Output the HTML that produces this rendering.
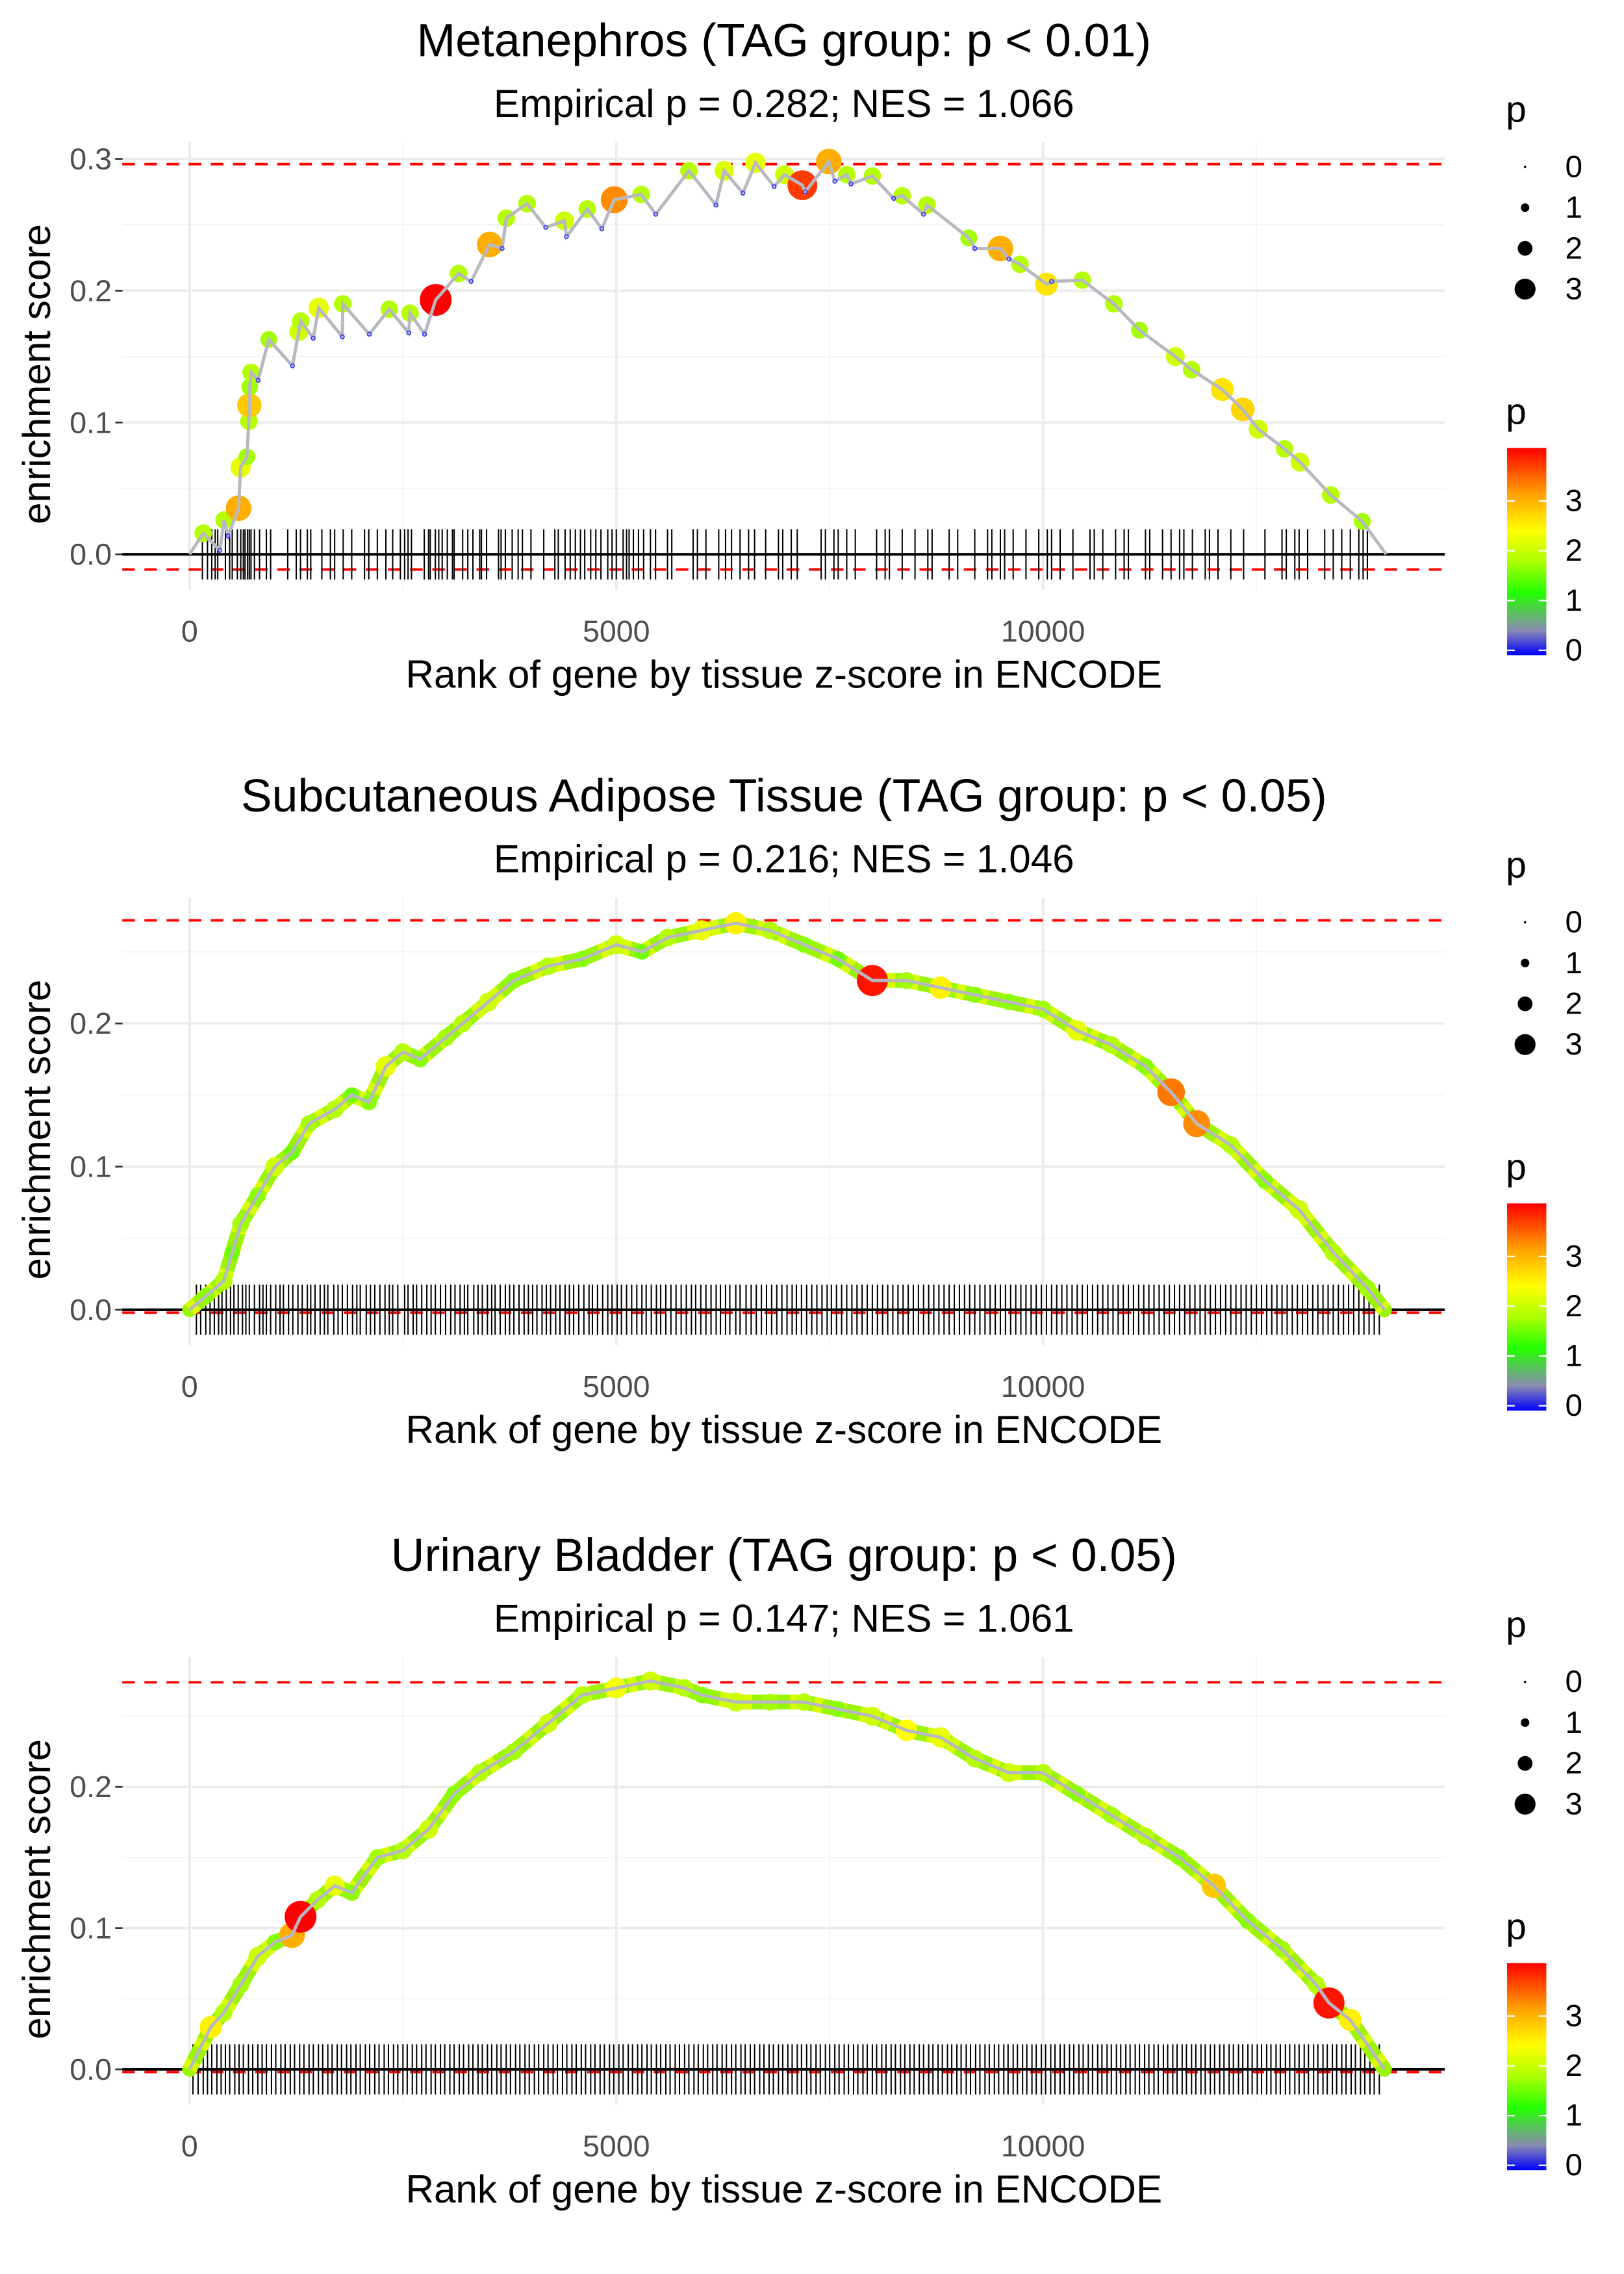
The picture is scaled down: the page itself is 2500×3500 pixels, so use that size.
<!DOCTYPE html>
<html><head><meta charset="utf-8"><style>
html,body{margin:0;padding:0;background:#fff}
svg{display:block;font-family:"Liberation Sans",Arial,sans-serif}
</style></head><body>
<svg id="chart" xmlns="http://www.w3.org/2000/svg" width="2500" height="3500" viewBox="0 0 1100 1540">
<defs>
<linearGradient id="pgrad" x1="0" y1="1" x2="0" y2="0">
<stop offset="0" stop-color="#0000ff"/><stop offset="0.12" stop-color="#8a8ab0"/><stop offset="0.3" stop-color="#22ff00"/><stop offset="0.45" stop-color="#aaff00"/><stop offset="0.6" stop-color="#ffff00"/><stop offset="0.78" stop-color="#ffa000"/><stop offset="1" stop-color="#ff0000"/>
</linearGradient>
</defs>
<g id="root"></g>
</svg>
<script>
// ---------- data ----------
const titles = ["Metanephros (TAG group: p < 0.01)","Subcutaneous Adipose Tissue (TAG group: p < 0.05)","Urinary Bladder (TAG group: p < 0.05)"];
const subtitles = ["Empirical p = 0.282; NES = 1.066","Empirical p = 0.216; NES = 1.046","Empirical p = 0.147; NES = 1.061"];
const maxES = [0.296, 0.272, 0.274];
const minES = [-0.0115, -0.002, -0.002];
const xTicks = [0, 5000, 10000];
const yTicks1 = [0, 0.1, 0.2, 0.3];
const yTicks2 = [0, 0.1, 0.2];
const yTicks3 = [0, 0.1, 0.2];

// panel 1: peaks (p>0, drawn as dots) and dips (p=0)
const ranks1 = [0,160,355,404,452,574,598,671,695,700,705,720,803,929,1206,1279,1303,1449,1513,1790,1795,2106,2340,2568,2583,2753,2884,3152,3298,3516,3662,3711,3954,4173,4392,4416,4660,4830,4976,5292,5462,5851,6167,6265,6484,6630,6849,6970,7180,7213,7490,7560,7700,7750,8000,8250,8350,8600,8640,9130,9200,9500,9600,9730,10040,10100,10460,10830,11130,11550,11740,12100,12340,12520,12830,13010,13370,13740,14020];
const es1 = [0,0.016,0.003,0.026,0.014,0.035,0.066,0.074,0.101,0.113,0.127,0.138,0.132,0.163,0.143,0.169,0.177,0.164,0.187,0.165,0.19,0.167,0.186,0.168,0.183,0.167,0.193,0.213,0.207,0.235,0.232,0.255,0.266,0.248,0.253,0.241,0.262,0.247,0.269,0.273,0.258,0.291,0.265,0.291,0.274,0.297,0.279,0.288,0.28,0.275,0.298,0.283,0.288,0.281,0.287,0.27,0.272,0.258,0.265,0.24,0.232,0.232,0.224,0.22,0.205,0.207,0.208,0.19,0.17,0.15,0.14,0.125,0.11,0.095,0.08,0.07,0.045,0.025,0];
const p1 = [0,1.8,0,1.8,0,3,2.2,1.7,1.8,2.8,1.7,1.8,0,1.7,0,2,1.8,0,2.2,0,1.8,0,1.8,0,1.8,0,3.9,1.8,0,3,0,1.8,1.8,0,2,0,1.8,0,3.2,1.8,0,1.8,0,2.1,0,2.2,0,2,3.6,0,3,0,1.8,0,1.8,0,1.8,0,1.8,1.7,0,3,0,1.8,2.6,0,1.8,1.8,1.7,2,1.8,2.6,2.7,2,1.8,2,1.8,1.7,0];

const ranks2 = [0,200,400,500,600,800,1000,1200,1400,1700,1900,2100,2300,2500,2700,3000,3200,3500,3800,4200,4600,5000,5300,5600,6000,6400,6800,7200,7600,8000,8400,8800,9200,9600,10000,10400,10800,11200,11500,11800,12200,12600,13000,13400,13800,14000];
const es2 = [0,0.01,0.02,0.04,0.06,0.08,0.1,0.11,0.13,0.14,0.15,0.145,0.17,0.18,0.175,0.19,0.2,0.215,0.23,0.24,0.245,0.255,0.25,0.26,0.265,0.27,0.265,0.255,0.245,0.23,0.23,0.225,0.22,0.215,0.21,0.195,0.185,0.17,0.152,0.13,0.115,0.09,0.07,0.04,0.015,0];
const p2 = [0,1.6,1.8,1.5,1.7,1.6,2,1.5,1.7,1.8,1.5,1.6,2.2,1.8,1.6,1.7,1.8,2,1.6,1.8,1.6,2,1.5,1.8,2.2,2.5,1.8,1.6,1.5,3.8,1.7,2.5,1.6,1.6,1.7,2.2,1.8,1.6,3.3,3.2,1.8,1.6,2,1.8,1.7,0];

const ranks3 = [0,250,400,600,800,1000,1200,1300,1500,1700,1900,2200,2500,2800,3100,3400,3800,4200,4600,5000,5400,5800,6000,6400,6800,7200,7600,8000,8400,8800,9200,9600,10000,10400,10800,11200,11600,12000,12400,12800,13200,13350,13600,14000];
const es3 = [0,0.03,0.04,0.06,0.08,0.09,0.095,0.108,0.12,0.13,0.125,0.15,0.155,0.17,0.195,0.21,0.225,0.245,0.265,0.27,0.275,0.27,0.265,0.26,0.26,0.26,0.255,0.25,0.24,0.235,0.22,0.21,0.21,0.195,0.18,0.165,0.15,0.13,0.105,0.085,0.06,0.047,0.035,0];
const p3 = [0,2.5,1.8,1.7,2,1.6,3,3.9,1.8,2.2,1.6,1.7,1.8,2,1.6,1.8,1.7,2,1.8,2.3,2,1.8,1.6,2,1.7,1.8,1.6,2,2.4,2.2,1.8,2,1.8,1.6,1.7,1.8,1.6,2.8,1.6,1.7,1.8,3.8,2.5,0];

const rug1 = [150,210,260,300,330,420,470,500,560,600,630,650,680,700,720,760,820,900,950,1150,1250,1300,1380,1420,1550,1650,1700,1800,1900,2050,2100,2200,2300,2380,2470,2520,2560,2600,2750,2800,2820,2880,2920,2960,3020,3080,3100,3200,3260,3320,3400,3420,3480,3620,3650,3700,3780,3850,3900,4000,4150,4280,4320,4400,4460,4520,4580,4630,4700,4760,4820,4900,4950,5000,5080,5120,5150,5200,5260,5320,5400,5460,5600,5650,5900,5950,6050,6200,6280,6350,6450,6550,6620,6750,6900,6950,7050,7120,7400,7450,7550,7600,7700,7800,8050,8150,8200,8350,8500,8650,8700,8900,9000,9200,9350,9400,9500,9550,9650,9800,9950,10050,10100,10200,10350,10550,10600,10700,10850,10950,11000,11200,11250,11400,11500,11600,11650,11750,11900,11950,12050,12200,12350,12600,12800,12850,12950,13000,13100,13300,13400,13500,13600,13700,13750,13800];
const rug2 = [80,130,190,240,290,340,380,430,480,520,570,620,660,700,760,820,860,900,950,1010,1060,1100,1160,1210,1270,1320,1380,1420,1470,1530,1580,1620,1690,1740,1790,1850,1910,1960,2000,2070,2120,2170,2230,2290,2340,2380,2440,2520,2560,2620,2660,2720,2780,2830,2880,2940,3000,3060,3110,3170,3220,3260,3330,3380,3430,3490,3540,3580,3640,3700,3750,3800,3860,3920,3970,4020,4070,4130,4180,4230,4290,4340,4400,4450,4500,4560,4620,4680,4720,4780,4840,4900,4950,5010,5060,5120,5180,5240,5300,5350,5410,5470,5520,5580,5640,5700,5760,5820,5880,5930,5990,6050,6110,6170,6220,6280,6330,6400,6450,6520,6580,6640,6700,6760,6820,6880,6940,7000,7060,7110,7170,7230,7290,7350,7410,7470,7520,7580,7640,7700,7760,7820,7880,7940,8000,8060,8120,8180,8240,8300,8360,8420,8480,8540,8600,8660,8720,8780,8840,8900,8960,9020,9080,9140,9200,9260,9320,9380,9440,9500,9560,9620,9680,9740,9800,9860,9920,9980,10040,10100,10160,10220,10280,10340,10400,10460,10520,10580,10640,10700,10760,10820,10880,10940,11000,11060,11120,11180,11240,11300,11360,11420,11480,11540,11600,11660,11720,11780,11840,11900,11960,12020,12080,12140,12200,12260,12320,12380,12440,12500,12560,12620,12680,12740,12800,12860,12920,12980,13040,13100,13160,13220,13280,13340,13400,13460,13520,13580,13640,13700,13760,13820,13880,13940];
const rug3 = [40,100,160,210,260,320,370,420,470,530,580,630,690,740,800,850,900,960,1010,1070,1120,1180,1230,1290,1340,1400,1450,1510,1560,1620,1670,1730,1780,1840,1890,1950,2000,2060,2110,2170,2220,2280,2330,2390,2440,2500,2550,2610,2660,2720,2770,2830,2880,2940,2990,3050,3100,3160,3210,3270,3320,3380,3430,3490,3540,3600,3650,3710,3760,3820,3870,3930,3980,4040,4090,4150,4200,4260,4310,4370,4420,4480,4530,4590,4640,4700,4750,4810,4860,4920,4970,5030,5080,5140,5190,5250,5300,5360,5410,5470,5520,5580,5630,5690,5740,5800,5850,5910,5960,6020,6070,6130,6180,6240,6290,6350,6400,6460,6510,6570,6620,6680,6730,6790,6840,6900,6950,7010,7060,7120,7170,7230,7280,7340,7390,7450,7500,7560,7610,7670,7720,7780,7830,7890,7940,8000,8050,8110,8160,8220,8270,8330,8380,8440,8490,8550,8600,8660,8710,8770,8820,8880,8930,8990,9040,9100,9150,9210,9260,9320,9370,9430,9480,9540,9590,9650,9700,9760,9810,9870,9920,9980,10030,10090,10140,10200,10250,10310,10360,10420,10470,10530,10580,10640,10690,10750,10800,10860,10910,10970,11020,11080,11130,11190,11240,11300,11350,11410,11460,11520,11570,11630,11680,11740,11790,11850,11900,11960,12010,12070,12120,12180,12230,12290,12340,12400,12450,12510,12560,12620,12670,12730,12780,12840,12890,12950,13000,13060,13110,13170,13220,13280,13330,13390,13440,13500,13550,13610,13660,13720,13770,13830,13880,13940];

const legendSizes = [0,1,2,3];
const legendColorTicks = [0,1,2,3];

// ---------- drawing ----------
const NS = "http://www.w3.org/2000/svg";
const root = document.getElementById("root");
function mk(tag, attrs, parent, text) {
  const e = document.createElementNS(NS, tag);
  for (const k in attrs) e.setAttribute(k, attrs[k]);
  if (text !== undefined) e.textContent = text;
  (parent || root).appendChild(e);
  return e;
}
const stops = [[0,[0,0,255]],[0.5,[138,138,176]],[1.2,[34,255,0]],[1.75,[176,255,0]],[2.4,[255,255,0]],[3.1,[255,160,0]],[3.9,[255,0,0]]];
function pColor(p) {
  if (p <= stops[0][0]) return "rgb(0,0,255)";
  for (let i = 1; i < stops.length; i++) {
    if (p <= stops[i][0]) {
      const t = (p - stops[i-1][0]) / (stops[i][0] - stops[i-1][0]);
      const a = stops[i-1][1], b = stops[i][1];
      return "rgb(" + a.map((v, j) => Math.round(v + (b[j]-v)*t)).join(",") + ")";
    }
  }
  return "rgb(255,0,0)";
}
function pRadius(p) { return 1.8 + p * 2.3; }

const X0 = 128.4, XU = 0.05781, LEFT = 82.8, RIGHT = 978.6;
const xs = r => X0 + r * XU;
const panels = [
  {T:27.4, unit:892.7, ranks:ranks1, es:es1, p:p1, rug:rug1, yTicks:yTicks1, band:false},
  {T:539, unit:969.5, ranks:ranks2, es:es2, p:p2, rug:rug2, yTicks:yTicks2, band:true},
  {T:1053.4, unit:956.5, ranks:ranks3, es:es3, p:p3, rug:rug3, yTicks:yTicks3, band:true}
];

panels.forEach((P, i) => {
  const T = P.T;
  const zeroY = T + 348;
  const plotTop = T + 69, plotBot = T + 372;
  const g = mk("g", {});
  
  
  const ys = v => zeroY - v * P.unit;
  P.yTicks.forEach(v => { const y = ys(v + 0.05); if (y > plotTop) mk("line", {x1:LEFT,x2:RIGHT,y1:y,y2:y,stroke:"#f4f4f4","stroke-width":0.8}, g); });
  [2500,7500,12500].forEach(v => mk("line", {x1:xs(v),x2:xs(v),y1:plotTop,y2:plotBot,stroke:"#f4f4f4","stroke-width":0.8}, g));
  P.yTicks.forEach(v => {
    const y = ys(v);
    const gl = mk("line", {x1:LEFT,x2:RIGHT,y1:y,y2:y,stroke:"#ebebeb","stroke-width":1.7}, g);
    
    
    const t = mk("text", {x:75.7,y:y,"text-anchor":"end","dominant-baseline":"central","font-size":20.5,fill:"#4d4d4d"}, g, v.toFixed(1));
    
    
    mk("line", {x1:78,x2:83,y1:y,y2:y,stroke:"#333","stroke-width":1.2}, g);
  });
  xTicks.forEach(v => {
    const x = xs(v);
    const gl = mk("line", {x1:x,x2:x,y1:plotTop,y2:plotBot,stroke:"#ebebeb","stroke-width":1.7}, g);
    
    
    const t = mk("text", {x:x,y:T+400,"text-anchor":"middle","dominant-baseline":"central","font-size":20.5,fill:"#4d4d4d"}, g, String(v));
    
    
  });
  const tt = mk("text", {x:531,y:T,"text-anchor":"middle","dominant-baseline":"central","font-size":31.5,fill:"#000"}, g, titles[i]);
  
  
  const st = mk("text", {x:531,y:T+42.5,"text-anchor":"middle","dominant-baseline":"central","font-size":26.5,fill:"#000"}, g, subtitles[i]);
  
  
  const xt = mk("text", {x:531,y:T+429,"text-anchor":"middle","dominant-baseline":"central","font-size":26.5,fill:"#000"}, g, "Rank of gene by tissue z-score in ENCODE");
  
  
  const cy = T + 226;
  const yt = mk("text", {x:24.6,y:cy,"text-anchor":"middle","dominant-baseline":"central","font-size":26.5,fill:"#000",transform:"rotate(-90 24.6 "+cy+")"}, g, "enrichment score");
  
  
  [maxES[i], minES[i]].forEach(v => {
    const l = mk("line", {x1:LEFT,x2:RIGHT,y1:ys(v),y2:ys(v),stroke:"#ff0000","stroke-width":1.7,"stroke-dasharray":"8.5 6.5"}, g);
    
    
  });
  const rg = mk("g", {stroke:"#000","stroke-width":0.9}, g);
  
  
  P.rug.forEach(r => {
    const l = mk("line", {x1:xs(r),x2:xs(r),y1:T+331,y2:T+365}, rg);
    
    
  });
  const zl = mk("line", {x1:LEFT,x2:RIGHT,y1:zeroY,y2:zeroY,stroke:"#000","stroke-width":1.8}, g);
  
  
  const pts = P.ranks.map((r, k) => xs(r) + "," + ys(P.es[k])).join(" ");
  if (P.band) {
    const b = mk("polyline", {points:pts,fill:"none",stroke:"#9cf500","stroke-width":10,"stroke-linejoin":"round","stroke-linecap":"round"}, g);
    
    
    const b2 = mk("polyline", {points:pts,fill:"none",stroke:"#d8ff00","stroke-width":10,"stroke-dasharray":"6 10","stroke-linejoin":"round"}, g);
    
    
  }
  P.ranks.forEach((r, k) => {
    if (P.p[k] <= 0) return;
    const c = mk("circle", {cx:xs(r),cy:ys(P.es[k]),r:pRadius(P.p[k]),fill:pColor(P.p[k])}, g);
    
    
  });
  const ln = mk("polyline", {points:pts,fill:"none",stroke:"#b8b8c0","stroke-width":2.2}, g);
  
  
  P.ranks.forEach((r, k) => {
    if (P.p[k] > 0 || k === 0 || k === P.ranks.length - 1) return;
    const c = mk("circle", {cx:xs(r),cy:ys(P.es[k]),r:1.3,fill:"none",stroke:"#3030ff","stroke-width":0.7}, g);
    
    
  });
  const lg = mk("g", {}, g);
  
  
  mk("text", {x:1020,y:T+47,"dominant-baseline":"central","font-size":25}, lg, "p");
  legendSizes.forEach((s, k) => {
    const y = T + 85.6 + k * 27.6;
    const c = mk("circle", {cx:1033,cy:y,r:0.8 + s * 2.1,fill:"#000"}, lg);
    
    
    mk("text", {x:1066,y:y,"text-anchor":"middle","dominant-baseline":"central","font-size":21}, lg, String(s));
  });
  const cg = mk("g", {}, g);
  
  
  mk("text", {x:1020,y:T+251.6,"dominant-baseline":"central","font-size":25}, cg, "p");
  const barTop = T + 276, barBot = T + 416.3;
  const cb = mk("rect", {x:1020.8,y:barTop,width:26.6,height:barBot-barTop,fill:"url(#pgrad)"}, cg);
  
  
  legendColorTicks.forEach(v => {
    const y = T + 413 - v * 33.7;
    mk("line", {x1:1020.8,x2:1026,y1:y,y2:y,stroke:"#fff","stroke-width":1}, cg);
    mk("line", {x1:1042.2,x2:1047.4,y1:y,y2:y,stroke:"#fff","stroke-width":1}, cg);
    mk("text", {x:1066,y:y,"text-anchor":"middle","dominant-baseline":"central","font-size":21}, cg, String(v));
  });
});
</script>
</body></html>
